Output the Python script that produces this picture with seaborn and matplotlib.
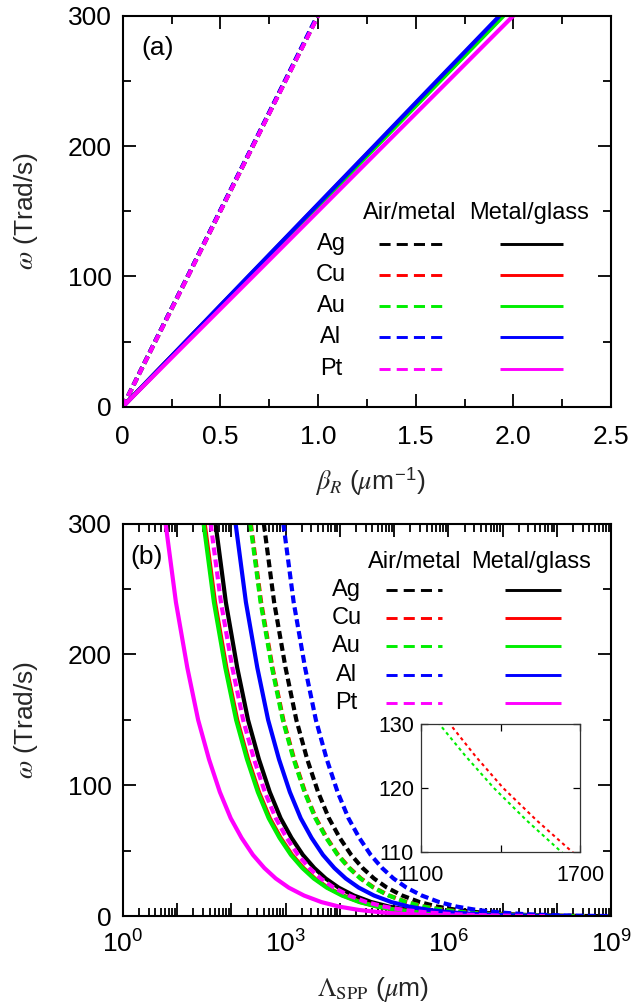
import numpy as np
import matplotlib
matplotlib.use("Agg")
import matplotlib.pyplot as plt
import seaborn as sns
from matplotlib.lines import Line2D
from matplotlib.ticker import MultipleLocator, FixedLocator, FuncFormatter, LogLocator, NullFormatter

# ---------------- data ----------------
metals = ["Ag", "Cu", "Au", "Al", "Pt"]
colors = ["#000000", "#ff0000", "#00ee00", "#0000ff", "#ff00ff"]

# panel (a): omega (Trad/s) vs beta_R (1/um)
omega_a = [0, 50, 100, 150, 200, 250, 300]
beta_air_Ag = [0, 0.166, 0.333, 0.499, 0.666, 0.832, 0.999]
beta_air_Cu = [0, 0.166, 0.333, 0.499, 0.666, 0.832, 0.999]
beta_air_Au = [0, 0.166, 0.333, 0.499, 0.666, 0.832, 0.999]
beta_air_Al = [0, 0.165, 0.332, 0.497, 0.664, 0.830, 0.996]
beta_air_Pt = [0, 0.167, 0.334, 0.500, 0.667, 0.834, 1.001]
beta_gl_Ag = [0, 0.323, 0.646, 0.968, 1.291, 1.613, 1.935]
beta_gl_Cu = [0, 0.324, 0.648, 0.973, 1.297, 1.621, 1.945]
beta_gl_Au = [0, 0.325, 0.650, 0.975, 1.300, 1.625, 1.950]
beta_gl_Al = [0, 0.322, 0.643, 0.965, 1.287, 1.608, 1.930]
beta_gl_Pt = [0, 0.333, 0.667, 1.000, 1.333, 1.667, 2.000]

# panel (b): omega (Trad/s) vs log10 of Lambda_SPP (um)
omega_b = [300, 240, 190, 150, 120, 95, 75, 60, 47, 37, 29, 22, 16, 11, 7.5, 5, 3, 1.8, 1, 0.5, 0.25]
loglam_air_Ag = [2.60, 2.79, 3.00, 3.20, 3.40, 3.60, 3.80, 4.00, 4.21, 4.42, 4.63, 4.87, 5.15, 5.47, 5.80, 6.16, 6.60, 7.04, 7.55, 8.16, 8.76]
loglam_air_Cu = [2.36, 2.55, 2.76, 2.96, 3.16, 3.36, 3.56, 3.76, 3.97, 4.18, 4.39, 4.63, 4.91, 5.23, 5.56, 5.92, 6.36, 6.80, 7.31, 7.92, 8.52]
loglam_air_Au = [2.35, 2.54, 2.75, 2.95, 3.15, 3.35, 3.55, 3.75, 3.96, 4.17, 4.38, 4.62, 4.90, 5.22, 5.55, 5.91, 6.35, 6.79, 7.30, 7.91, 8.51]
loglam_air_Al = [2.96, 3.15, 3.36, 3.56, 3.76, 3.96, 4.16, 4.36, 4.57, 4.78, 4.99, 5.23, 5.51, 5.83, 6.16, 6.52, 6.96, 7.40, 7.91, 8.52, 9.12]
loglam_air_Pt = [1.62, 1.81, 2.02, 2.22, 2.42, 2.62, 2.82, 3.02, 3.23, 3.44, 3.65, 3.89, 4.17, 4.49, 4.82, 5.18, 5.62, 6.06, 6.57, 7.18, 7.78]
loglam_gl_Ag = [1.71, 1.90, 2.11, 2.31, 2.51, 2.71, 2.91, 3.11, 3.32, 3.53, 3.74, 3.98, 4.26, 4.58, 4.91, 5.27, 5.71, 6.15, 6.66, 7.27, 7.87]
loglam_gl_Cu = [1.51, 1.70, 1.91, 2.11, 2.31, 2.51, 2.71, 2.91, 3.12, 3.33, 3.54, 3.78, 4.06, 4.38, 4.71, 5.07, 5.51, 5.95, 6.46, 7.07, 7.67]
loglam_gl_Au = [1.49, 1.68, 1.89, 2.09, 2.29, 2.49, 2.69, 2.89, 3.10, 3.31, 3.52, 3.76, 4.04, 4.36, 4.69, 5.05, 5.49, 5.93, 6.44, 7.05, 7.65]
loglam_gl_Al = [2.08, 2.27, 2.48, 2.68, 2.88, 3.08, 3.28, 3.48, 3.69, 3.90, 4.11, 4.35, 4.63, 4.95, 5.28, 5.64, 6.08, 6.52, 7.03, 7.64, 8.24]
loglam_gl_Pt = [0.79, 0.98, 1.19, 1.39, 1.59, 1.79, 1.99, 2.19, 2.40, 2.61, 2.82, 3.06, 3.34, 3.66, 3.99, 4.35, 4.79, 5.23, 5.74, 6.35, 6.95]

# inset: Cu and Au air/metal near 110-130 Trad/s
omega_in = [132, 130, 125, 120, 115, 110, 108]
lam_in_Cu = [1173, 1209, 1305, 1410, 1535, 1671, 1733]
lam_in_Au = [1134, 1169, 1268, 1375, 1497, 1630, 1691]

xticks_a = [0, 0.5, 1.0, 1.5, 2.0, 2.5]
xticklabels_a = ["0", "0.5", "1.0", "1.5", "2.0", "2.5"]
yticks = [0, 100, 200, 300]
decades_b = list(range(0, 10))
inset_xticks = [1100, 1400, 1700]
inset_xticklabels = ["1100", "", "1700"]
inset_yticks = [110, 120, 130]

beta_air = [beta_air_Ag, beta_air_Cu, beta_air_Au, beta_air_Al, beta_air_Pt]
beta_gl = [beta_gl_Ag, beta_gl_Cu, beta_gl_Au, beta_gl_Al, beta_gl_Pt]
loglam_air = [loglam_air_Ag, loglam_air_Cu, loglam_air_Au, loglam_air_Al, loglam_air_Pt]
loglam_gl = [loglam_gl_Ag, loglam_gl_Cu, loglam_gl_Au, loglam_gl_Al, loglam_gl_Pt]

# ---------------- style ----------------
sns.set_theme(style="ticks")
plt.rcParams["font.family"] = ["Liberation Sans", "DejaVu Sans"]
plt.rcParams["mathtext.fontset"] = "stix"
plt.rcParams["axes.linewidth"] = 1.5
plt.rcParams["axes.edgecolor"] = "black"
plt.rcParams["text.color"] = "black"
plt.rcParams["xtick.color"] = "black"
plt.rcParams["ytick.color"] = "black"

FS = 19
LFS = 17
LW = 3.0

fig = plt.figure(figsize=(6.31, 10.05), dpi=100)
axa = fig.add_axes([0.1945, 0.5953, 0.7739, 0.3891])
axb = fig.add_axes([0.1945, 0.0881, 0.7739, 0.3910])


def curve(ax, x, y, color, dashed, lw=LW, dash=(1.9, 1.0)):
    sns.lineplot(x=np.asarray(x, dtype=float), y=np.asarray(y, dtype=float), ax=ax,
                 color=color, lw=lw, estimator=None, sort=False, legend=False)
    ln = ax.lines[-1]
    ln.set_solid_capstyle("butt")
    if dashed:
        ln.set_dashes(dash)
        ln.set_dash_capstyle("butt")


# panel (a)
for i in range(len(metals)):
    curve(axa, beta_air[i], omega_a, colors[i], True)
    curve(axa, beta_gl[i], omega_a, colors[i], False)

# panel (b)
for i in range(len(metals)):
    curve(axb, 10 ** np.asarray(loglam_air[i]), omega_b, colors[i], True)
    curve(axb, 10 ** np.asarray(loglam_gl[i]), omega_b, colors[i], False)

# axes (a)
axa.set_xlim(0, 2.5)
axa.set_ylim(0, 300)
axa.set_xticks(xticks_a)
axa.set_xticklabels(xticklabels_a)
axa.xaxis.set_minor_locator(MultipleLocator(0.25))

# axes (b)
axb.set_xscale("log")
axb.set_xlim(1, 1e9)
axb.set_ylim(0, 300)
axb.xaxis.set_major_locator(FixedLocator([10.0 ** d for d in decades_b]))
axb.xaxis.set_major_formatter(FuncFormatter(
    lambda v, p: (r"$\mathregular{10^{%d}}$" % round(np.log10(v))) if round(np.log10(v)) % 3 == 0 else ""))
axb.xaxis.set_minor_locator(LogLocator(base=10, subs=np.arange(2, 10), numticks=100))
axb.xaxis.set_minor_formatter(NullFormatter())

for ax in (axa, axb):
    ax.set_yticks(yticks)
    ax.yaxis.set_minor_locator(MultipleLocator(50))
    ax.tick_params(which="both", direction="in", top=True, right=True, width=1.3, labelsize=FS)
    ax.tick_params(which="major", length=9.5)
    ax.tick_params(which="minor", length=5.5)
    ax.tick_params(axis="y", pad=8)
    ax.set_facecolor("white")
    for s in ax.spines.values():
        s.set_linewidth(1.5)
        s.set_color("black")
axa.tick_params(axis="x", pad=13)
axb.tick_params(axis="x", pad=10)

axa.set_ylabel(r"$\omega$ (Trad/s)", fontsize=FS)
axb.set_ylabel(r"$\omega$ (Trad/s)", fontsize=FS)
axa.set_xlabel(r"$\beta_R$ ($\mu$m$^{\mathregular{-1}}$)", fontsize=FS)
axb.set_xlabel(r"$\Lambda_{\rm SPP}$ ($\mu$m)", fontsize=FS)
axa.yaxis.set_label_coords(-0.170, 0.5)
axb.yaxis.set_label_coords(-0.170, 0.5)
axa.xaxis.set_label_coords(0.508, -0.148)
axb.xaxis.set_label_coords(0.512, -0.148)

axa.text(0.072, 0.917, "(a)", transform=axa.transAxes, fontsize=FS, ha="center", va="center")
axb.text(0.048, 0.915, "(b)", transform=axb.transAxes, fontsize=FS, ha="center", va="center")


# legend tables
def legend_table(ax, hdr_y, x_air, x_gl, x_lab, row_ys, seg_air, seg_gl):
    ax.text(x_air, hdr_y, "Air/metal", transform=ax.transAxes, fontsize=LFS, ha="center", va="center")
    ax.text(x_gl, hdr_y, "Metal/glass", transform=ax.transAxes, fontsize=LFS, ha="center", va="center")
    for i, m in enumerate(metals):
        y = row_ys[i]
        ax.text(x_lab, y, m, transform=ax.transAxes, fontsize=LFS, ha="center", va="center")
        l1 = Line2D(seg_air, [y, y], transform=ax.transAxes, color=colors[i], lw=2.1,
                    dashes=(3.8, 2.1), dash_capstyle="butt")
        l2 = Line2D(seg_gl, [y, y], transform=ax.transAxes, color=colors[i], lw=2.1,
                    solid_capstyle="butt")
        ax.add_line(l1)
        ax.add_line(l2)


legend_table(axa, 0.495, 0.588, 0.832, 0.4265,
             [0.416, 0.337, 0.257, 0.178, 0.0964], [0.5246, 0.6536], [0.7726, 0.9016])
legend_table(axb, 0.902, 0.5986, 0.836, 0.458,
             [0.831, 0.760, 0.687, 0.615, 0.543], [0.539, 0.654], [0.783, 0.898])

# inset
axi = fig.add_axes([0.6672, 0.1522, 0.2520, 0.1274])
curve(axi, lam_in_Cu, omega_in, colors[1], True, lw=1.5, dash=(1.6, 1.6))
curve(axi, lam_in_Au, omega_in, colors[2], True, lw=1.5, dash=(1.6, 1.6))
axi.set_xlim(1100, 1700)
axi.set_ylim(110, 130)
axi.set_xticks(inset_xticks)
axi.set_xticklabels(inset_xticklabels)
axi.set_yticks(inset_yticks)
axi.tick_params(which="both", direction="in", top=True, right=True, length=5, width=0.9,
                labelsize=15.5)
axi.tick_params(axis="y", pad=5)
axi.tick_params(axis="x", pad=9)
axi.set_facecolor("white")
for s in axi.spines.values():
    s.set_linewidth(0.9)
    s.set_color("#333333")

fig.savefig("out.png", dpi=100, facecolor="white")
